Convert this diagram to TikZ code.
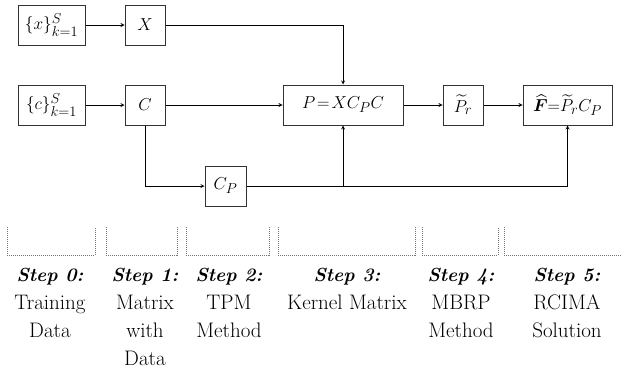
\documentclass[tikz,border=0pt]{standalone}
\usepackage{amsmath}
\usepackage{amssymb}
\usepackage{bm}

\newcommand{\steplbl}[1]{{\fontsize{19}{28}\selectfont\textbf{\textit{Step #1:}}}}

\begin{document}
\begin{tikzpicture}[x=1pt,y=-1pt,
blk/.style = {draw=black!80, line width=1pt, minimum height=40pt, inner sep=1pt,
              font=\fontsize{19}{22}\selectfont},
brk/.style = {draw=black!55, densely dotted, line width=1pt},
stp/.style = {align=center, anchor=north, font=\fontsize{21}{28}\selectfont},
>=stealth, thick]
\useasboundingbox (0,0) rectangle (622,372);

    % blocks of the pipeline
    \node[blk, minimum width=67pt] (xs) at (51.5,25) {$\{x\}_{k=1}^{S}$};
    \node[blk, minimum width=40pt] (X) at (145,25) {$X$};
    \node[blk, minimum width=67pt] (cs) at (51.5,105) {$\{c\}_{k=1}^{S}$};
    \node[blk, minimum width=40pt] (C) at (145,105) {$C$};
    \node[blk, minimum width=41pt] (Cp) at (225.5,186) {$C_P$};
    \node[blk, minimum width=120pt] (P) at (343,105) {$P\!=\!XC_PC$};
    \node[blk, minimum width=40pt] (Pr) at (463,105) {$\widetilde{P}_r$};
    \node[blk, minimum width=89pt, inner sep=0pt] (F) at (567.5,105) {$\widehat{\bm{F}}{=}\widetilde{P}_rC_P$};
    \coordinate (split) at (343,186);

    % connectors
    \draw[->] (xs) -- (X);
    \draw[->] (X) -| (P);
    \draw[->] (cs) -- (C);
    \draw[->] (C) -- (P);
    \draw[->] (C) |- (Cp);
    \draw[->] (Cp) -| (F);
    \draw[->] (split) -- (P);
    \draw[->] (P) -- (Pr);
    \draw[->] (Pr) -- (F);

    % dotted brackets over the steps
    \foreach \a/\b in {7/95, 106/177, 186/269, 278/415, 422/498, 504/622}
        \draw[brk] (\a,227) -- (\a,255) -- (\b,255) -- (\b,227);

    % step captions
    \node[stp] (s0) at (50,264) {\steplbl{0}\\Training\\Data};
    \node[stp] (s1) at (145,264) {\steplbl{1}\\Matrix\\with\\Data};
    \node[stp] (s2) at (229,264) {\steplbl{2}\\TPM\\Method};
    \node[stp] (s3) at (347,264) {\steplbl{3}\\Kernel Matrix};
    \node[stp] (s4) at (461,264) {\steplbl{4}\\MBRP\\Method};
    \node[stp] (s5) at (567,264) {\steplbl{5}\\RCIMA\\Solution};

\end{tikzpicture}
\end{document}
